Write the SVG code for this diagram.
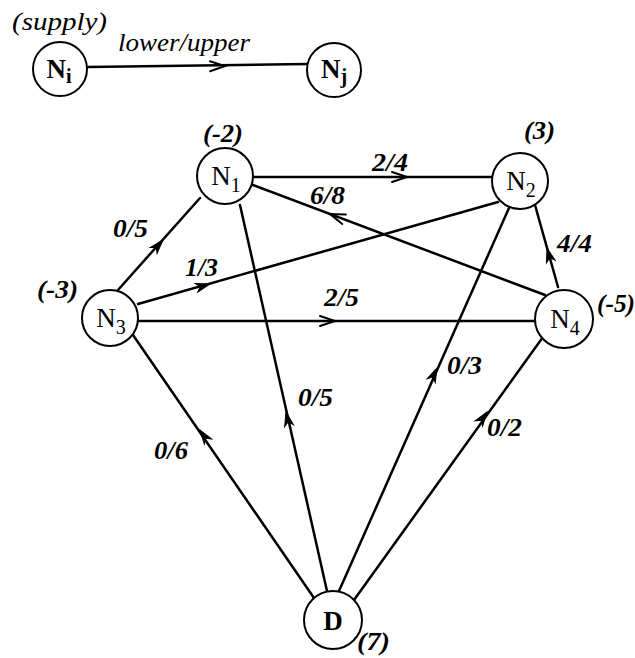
<svg xmlns="http://www.w3.org/2000/svg" width="635" height="658" viewBox="0 0 635 658">
<style>
.edge{stroke:#000;stroke-width:2.5;fill:none;stroke-linecap:round}
.node circle{fill:#fff;stroke:#000;stroke-width:2}
.nl{font-family:"Liberation Serif",serif;font-size:27px;fill:#000;text-anchor:middle}
.sub{font-size:20px}
.lbl{font-family:"Liberation Serif",serif;font-style:italic;font-weight:bold;font-size:26px;fill:#000}
.leg{font-family:"Liberation Serif",serif;font-style:italic;font-size:25px;fill:#000}
.open{stroke:#000;stroke-width:2;fill:none;stroke-linecap:round;stroke-linejoin:miter}
</style>
<defs>
<path id="ah" d="M0,0 L-14,-4.5 L-10,0 L-14,4.5 Z" fill="#000" stroke="#000" stroke-width="1" stroke-linejoin="miter"/>
<path id="oh" d="M-15,-5 L0,0 L-15,5" class="open"/>
</defs>
<g id="connectors">
<line class="edge" x1="88" y1="67" x2="307" y2="64"/>
<line class="edge" x1="254" y1="177" x2="492" y2="177"/>
<line class="edge" x1="545" y1="295" x2="253" y2="185"/>
<line class="edge" x1="118" y1="290" x2="200" y2="198"/>
<line class="edge" x1="138" y1="304" x2="498" y2="202"/>
<line class="edge" x1="139" y1="321" x2="535" y2="321"/>
<line class="edge" x1="558" y1="287" x2="535" y2="205"/>
<line class="edge" x1="314" y1="598" x2="133" y2="335"/>
<line class="edge" x1="327" y1="591" x2="240" y2="205"/>
<line class="edge" x1="339" y1="591" x2="509" y2="208"/>
<line class="edge" x1="354" y1="600" x2="543" y2="337"/>
<use href="#oh" transform="translate(225,66) rotate(-0.8)"/>
<use href="#oh" transform="translate(407,177)"/>
<use href="#oh" transform="translate(335,321)"/>
<use href="#oh" transform="translate(330,214) rotate(200.6)"/>
<use href="#ah" transform="translate(163,240) rotate(-48.3)"/>
<use href="#ah" transform="translate(210,284) rotate(-15.8)"/>
<use href="#ah" transform="translate(200,430) rotate(-124.8)"/>
<use href="#ah" transform="translate(286,412) rotate(-102.5)"/>
<use href="#ah" transform="translate(437,368) rotate(-65.4)"/>
<use href="#ah" transform="translate(487,412) rotate(-54.7)"/>
<use href="#ah" transform="translate(547,248) rotate(-105.7)"/>
</g>
<g id="edge-labels">
<text class="leg" x="12" y="30" textLength="95" lengthAdjust="spacingAndGlyphs">(supply)</text>
<text class="leg" x="118" y="51" textLength="132" lengthAdjust="spacingAndGlyphs">lower/upper</text>
<text class="lbl" x="372" y="171" textLength="36" lengthAdjust="spacingAndGlyphs">2/4</text>
<text class="lbl" x="310" y="204" textLength="35" lengthAdjust="spacingAndGlyphs">6/8</text>
<text class="lbl" x="113" y="237" textLength="35" lengthAdjust="spacingAndGlyphs">0/5</text>
<text class="lbl" x="185" y="276" textLength="33" lengthAdjust="spacingAndGlyphs">1/3</text>
<text class="lbl" x="324" y="306" textLength="35" lengthAdjust="spacingAndGlyphs">2/5</text>
<text class="lbl" x="154" y="459" textLength="34" lengthAdjust="spacingAndGlyphs">0/6</text>
<text class="lbl" x="298" y="406" textLength="35" lengthAdjust="spacingAndGlyphs">0/5</text>
<text class="lbl" x="447" y="374" textLength="35" lengthAdjust="spacingAndGlyphs">0/3</text>
<text class="lbl" x="487" y="436" textLength="35" lengthAdjust="spacingAndGlyphs">0/2</text>
<text class="lbl" x="557" y="252" textLength="35" lengthAdjust="spacingAndGlyphs">4/4</text>
</g>
<g id="Ni" class="node">
<circle cx="60" cy="69" r="27"/>
<text class="nl" x="59" y="78" font-weight="bold" font-size="25">N<tspan class="sub" dy="5">i</tspan></text>
</g>
<g id="Nj" class="node">
<circle cx="334" cy="70" r="27"/>
<text class="nl" x="334" y="78" font-weight="bold" font-size="25">N<tspan class="sub" dy="5">j</tspan></text>
</g>
<g id="N1" class="node">
<circle cx="225" cy="176" r="28"/>
<text class="nl" x="226" y="185">N<tspan class="sub" dy="7">1</tspan></text>
<text class="lbl" x="203" y="142" textLength="40" lengthAdjust="spacingAndGlyphs">(-2)</text>
</g>
<g id="N2" class="node">
<circle cx="520" cy="181" r="28"/>
<text class="nl" x="521" y="190">N<tspan class="sub" dy="7">2</tspan></text>
<text class="lbl" x="524" y="139" textLength="31" lengthAdjust="spacingAndGlyphs">(3)</text>
</g>
<g id="N3" class="node">
<circle cx="110" cy="318" r="28"/>
<text class="nl" x="111" y="327">N<tspan class="sub" dy="7">3</tspan></text>
<text class="lbl" x="37" y="298" textLength="41" lengthAdjust="spacingAndGlyphs">(-3)</text>
</g>
<g id="N4" class="node">
<circle cx="564" cy="319" r="29"/>
<text class="nl" x="565" y="328">N<tspan class="sub" dy="7">4</tspan></text>
<text class="lbl" x="597" y="312" textLength="38" lengthAdjust="spacingAndGlyphs">(-5)</text>
</g>
<g id="D" class="node">
<circle cx="333" cy="620" r="29"/>
<text class="nl" x="333" y="630" font-weight="bold" font-size="29">D</text>
<text class="lbl" x="357" y="650" textLength="33" lengthAdjust="spacingAndGlyphs">(7)</text>
</g>
</svg>
